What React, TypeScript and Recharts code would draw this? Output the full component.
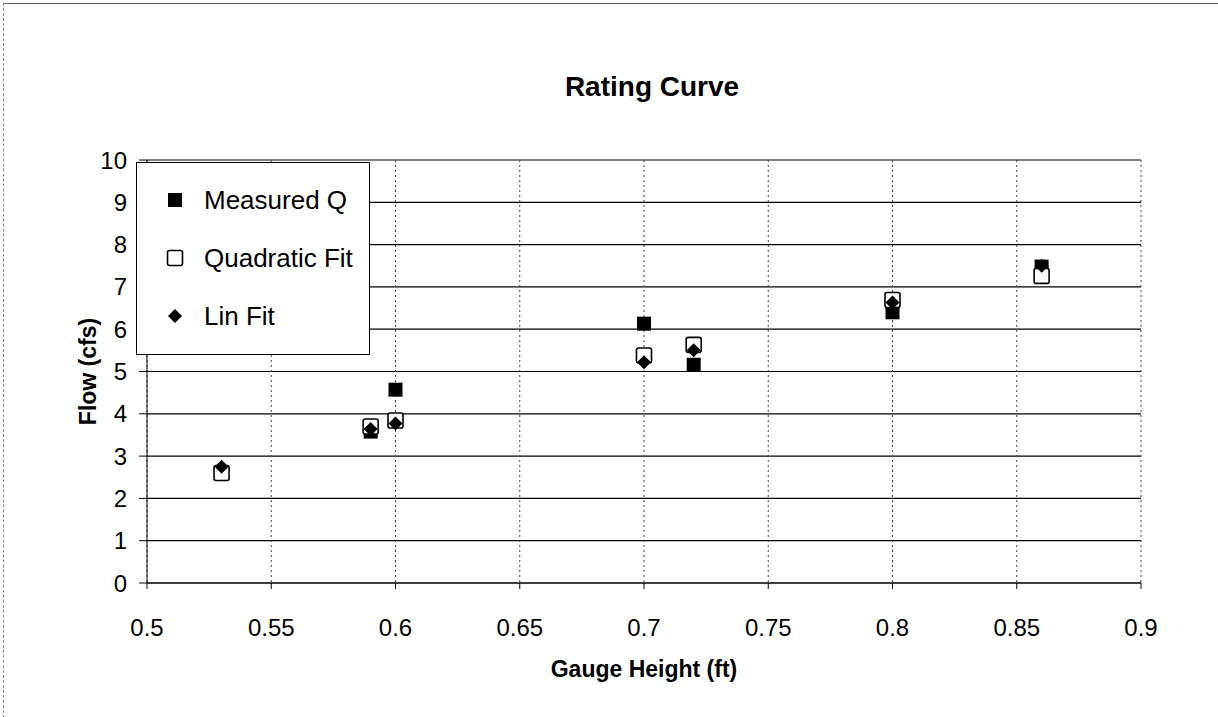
import React from 'react';
import { ScatterChart, Scatter, XAxis, YAxis, CartesianGrid, Label } from 'recharts';

const gaugeHeights = [0.53, 0.59, 0.6, 0.7, 0.72, 0.8, 0.86];
const measuredQ = [2.58, 3.58, 4.57, 6.13, 5.16, 6.4, 7.48];
const quadraticFit = [2.6, 3.7, 3.84, 5.38, 5.63, 6.69, 7.26];
const linFit = [2.75, 3.64, 3.77, 5.22, 5.5, 6.63, 7.5];
const xTicks = [0.5, 0.55, 0.6, 0.65, 0.7, 0.75, 0.8, 0.85, 0.9];
const yTicks = [0, 1, 2, 3, 4, 5, 6, 7, 8, 9, 10];
const seriesNames = ['Measured Q', 'Quadratic Fit', 'Lin Fit'];

const toPoints = (ys: number[]) => gaugeHeights.map((x, i) => ({ x, y: ys[i] }));

const FONT = '"Liberation Sans", Arial, sans-serif';

const FilledSquare = (props: any) => {
  const { cx, cy } = props;
  return <rect x={cx - 7} y={cy - 7} width={14} height={14} fill="#000" />;
};
const OpenSquare = (props: any) => {
  const { cx, cy } = props;
  return <rect x={cx - 7.5} y={cy - 7.5} width={15} height={15} rx={2} fill="#fff" stroke="#000" strokeWidth={1.6} />;
};
const Diamond = (props: any) => {
  const { cx, cy } = props;
  const r = 7;
  return <polygon points={`${cx},${cy - r} ${cx + r},${cy} ${cx},${cy + r} ${cx - r},${cy}`} fill="#000" />;
};

const YLabel = (props: any) => {
  const vb = props.viewBox || { x: 0, y: 0, width: 0, height: 0 };
  const x = vb.x + 21;
  const y = vb.y + vb.height / 2;
  return (
    <text x={x} y={y} transform={`rotate(-90 ${x} ${y})`} textAnchor="middle" dominantBaseline="central"
      fontFamily={FONT} fontWeight="bold" fontSize={23} fill="#000">
      Flow (cfs)
    </text>
  );
};

const legendSymbols = [
  <svg width={16} height={16}><FilledSquare cx={8} cy={8} /></svg>,
  <svg width={18} height={18}><OpenSquare cx={9} cy={9} /></svg>,
  <svg width={16} height={16}><Diamond cx={8} cy={8} /></svg>,
];

export default function App() {
  return (
    <div style={{ position: 'absolute', left: 0, top: 0, width: 1218, height: 717, background: '#fff', fontFamily: FONT }}>
      <div style={{ position: 'absolute', left: 3, top: 3, width: 1215, height: 714, borderTop: '1px solid #666', borderLeft: '1px dashed #888' }} />
      <div style={{ position: 'absolute', left: 452, top: 71, width: 400, textAlign: 'center', fontSize: 28, fontWeight: 'bold', color: '#000' }}>
        Rating Curve
      </div>
      <ScatterChart width={1218} height={717} margin={{ top: 160, right: 77, bottom: 34, left: 67 }}>
        <CartesianGrid horizontal={true} vertical={false} stroke="#000" strokeWidth={1.2} />
        <CartesianGrid horizontal={false} vertical={true} stroke="#444" strokeDasharray="2 3" />
        <XAxis type="number" dataKey="x" domain={[0.5, 0.9]} ticks={xTicks} interval={0} height={100}
          tickSize={6} tickMargin={30} stroke="#000" allowDataOverflow
          tick={{ fontSize: 24, fill: '#000', fontFamily: FONT }}>
          <Label value="Gauge Height (ft)" position="insideBottom" offset={6}
            style={{ fontSize: 23, fontWeight: 'bold', fill: '#000', fontFamily: FONT }} />
        </XAxis>
        <YAxis type="number" dataKey="y" domain={[0, 10]} ticks={yTicks} interval={0} width={80}
          tickSize={8} tickMargin={12} stroke="#000" allowDataOverflow
          tick={{ fontSize: 24, fill: '#000', fontFamily: FONT }}>
          <Label content={<YLabel />} />
        </YAxis>
        <Scatter name={seriesNames[0]} data={toPoints(measuredQ)} shape={<FilledSquare />} isAnimationActive={false} />
        <Scatter name={seriesNames[1]} data={toPoints(quadraticFit)} shape={<OpenSquare />} isAnimationActive={false} />
        <Scatter name={seriesNames[2]} data={toPoints(linFit)} shape={<Diamond />} isAnimationActive={false} />
      </ScatterChart>
      <div style={{ position: 'absolute', left: 136, top: 162, width: 234, height: 193, border: '1px solid #000', background: '#fff', boxSizing: 'border-box', paddingTop: 8 }}>
        {seriesNames.map((n, i) => (
          <div key={n} style={{ display: 'flex', alignItems: 'center', height: 58, fontSize: 26, color: '#000' }}>
            <div style={{ width: 59, display: 'flex', justifyContent: 'center', paddingLeft: 8 }}>{legendSymbols[i]}</div>
            <span>{n}</span>
          </div>
        ))}
      </div>
    </div>
  );
}
